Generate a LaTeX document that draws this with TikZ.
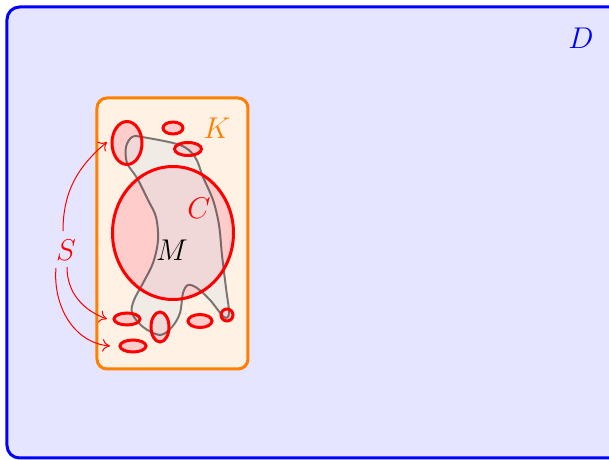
\documentclass[tikz,border=0pt]{standalone}
\usetikzlibrary{shapes.geometric,arrows.meta}
\begin{document}
\begin{tikzpicture}[x=0.4pt,y=-0.4pt,
  blob/.style={ellipse, fill=red!20, inner sep=0pt},
  rim/.style={draw=red, line width=1.2pt},
  lab/.style={font=\large},
  sarrow/.style={draw=red, line width=0.4pt, -{To[length=3pt,width=5pt]}}]
\useasboundingbox (0,0) rectangle (609,460);
\clip (0,0) rectangle (609,460);
% domain D
\draw[blue, line width=1.2pt, fill=blue!10, rounded corners=5pt] (7,7) rectangle (625,458);
\node[lab, text=blue] (Dl) at (581,38) {$D$};
% compact K
\draw[orange, line width=1.2pt, fill=orange!10, rounded corners=4pt] (97,98) rectangle (248,369);
\node[lab, text=orange] (Kl) at (217,128) {$K$};
% fills of C and small sets
\node[blob, minimum width=121*0.4pt, minimum height=133*0.4pt] (C) at (173,233) {};
\node[blob, minimum width=30*0.4pt, minimum height=43*0.4pt] (e1) at (127,143) {};
\node[blob, minimum width=20*0.4pt, minimum height=12*0.4pt] (e2) at (173,128) {};
\node[blob, minimum width=27*0.4pt, minimum height=13*0.4pt] (e3) at (188,149) {};
\node[blob, minimum width=26*0.4pt, minimum height=12*0.4pt] (e4) at (127,319) {};
\node[blob, minimum width=18*0.4pt, minimum height=30*0.4pt] (e5) at (160,327) {};
\node[blob, minimum width=24*0.4pt, minimum height=13*0.4pt] (e6) at (200,321) {};
\node[blob, minimum width=12*0.4pt, minimum height=12*0.4pt] (e7) at (227,315) {};
\node[blob, minimum width=26*0.4pt, minimum height=12*0.4pt] (e8) at (133,346) {};
% M region
\draw[black, draw opacity=0.5, line width=0.8pt, fill=gray!20, fill opacity=0.5]
  plot[smooth cycle, tension=0.55] coordinates {
  (126,147) (132,137) (142,137) (180,145) (195,157) (203,177) (213,200) (219,225)
  (222,255) (226,288) (229,313) (224,317) (210,300) (197,288) (188,285)
  (183,293) (180,313) (172,327) (160,335) (143,327) (132,313) (134,300)
  (142,285) (153,263) (158,240) (156,217) (148,200) (137,178) (127,163)};
% outlines
\draw[rim] (C.center) ellipse [x radius=24.2pt, y radius=26.6pt];
\draw[rim] (e1.center) ellipse [x radius=6pt, y radius=8.6pt];
\draw[rim] (e2.center) ellipse [x radius=4pt, y radius=2.4pt];
\draw[rim] (e3.center) ellipse [x radius=5.4pt, y radius=2.6pt];
\draw[rim] (e4.center) ellipse [x radius=5.2pt, y radius=2.4pt];
\draw[rim] (e5.center) ellipse [x radius=3.6pt, y radius=6pt];
\draw[rim] (e6.center) ellipse [x radius=4.8pt, y radius=2.6pt];
\draw[rim] (e7.center) ellipse [x radius=2.4pt, y radius=2.4pt];
\draw[rim] (e8.center) ellipse [x radius=5.2pt, y radius=2.4pt];
\node[lab, text=red] (Cl) at (199,208) {$C$};
\node[lab] (Ml) at (172,250) {$M$};
% S
\node[lab, text=red] (S) at (66,250) {$S$};
\coordinate (a1) at (107,142);
\coordinate (a2) at (107,319);
\coordinate (a3) at (110,346);
\draw[sarrow] (63,231) to[out=90, in=220] (a1);
\draw[sarrow] (67,267) to[out=-90, in=160] (a2);
\draw[sarrow] (56,268) to[out=-95, in=175] (a3);
\end{tikzpicture}
\end{document}
